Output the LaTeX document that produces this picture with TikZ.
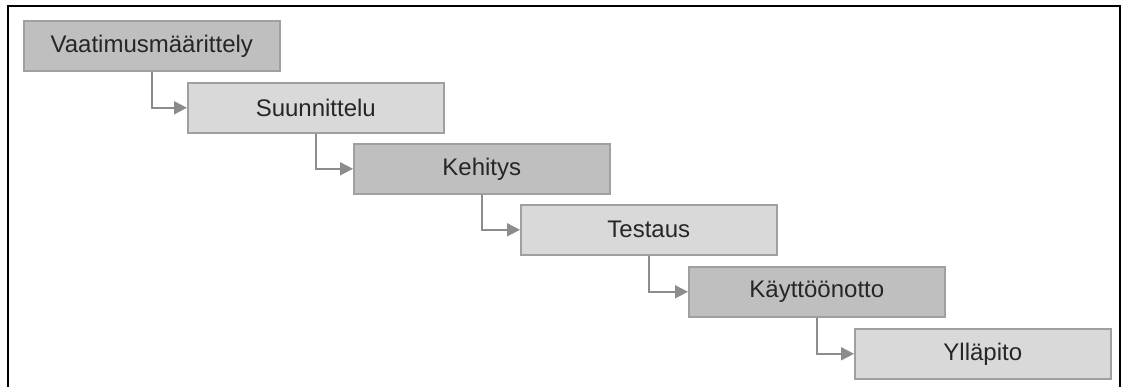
\documentclass[tikz,border=0pt]{standalone}
\usepackage{fontspec}
\setmainfont{Liberation Sans}
\usetikzlibrary{arrows.meta}
\definecolor{darkfill}{HTML}{BFBFBF}
\definecolor{lightfill}{HTML}{D9D9D9}
\definecolor{boxline}{HTML}{A0A0A0}
\definecolor{arrowgray}{HTML}{8C8C8C}
\begin{document}
\begin{tikzpicture}[x=1pt,y=-1pt,
  phase/.style={draw=boxline, line width=1.6pt, minimum width=256pt, minimum height=50pt,
    inner sep=0pt, anchor=north west, font=\fontsize{24}{26}\selectfont, text=black!85},
  darkphase/.style={phase, fill=darkfill},
  lightphase/.style={phase, fill=lightfill},
  flow/.style={draw=arrowgray, line width=1.8pt, -{Triangle[length=13pt,width=13pt]}}]
\useasboundingbox (0,0) rectangle (1123,387);
\draw[line width=2.2pt, black] (8,388) -- (8,6) -- (1120,6) -- (1120,388);
\node[darkphase]  (p1) at (23,20)  {Vaatimusmäärittely};
\node[lightphase] (p2) at (187,82) {Suunnittelu};
\node[darkphase]  (p3) at (353,143) {Kehitys};
\node[lightphase] (p4) at (520,204) {Testaus};
\node[darkphase]  (p5) at (688,266) {Käyttöönotto};
\node[lightphase] (p6) at (854,328) {Ylläpito};
\draw[flow] (p1.south) |- (p2.west);
\draw[flow] (p2.south) |- (p3.west);
\draw[flow] (p3.south) |- (p4.west);
\draw[flow] (p4.south) |- (p5.west);
\draw[flow] (p5.south) |- (p6.west);
\end{tikzpicture}
\end{document}
